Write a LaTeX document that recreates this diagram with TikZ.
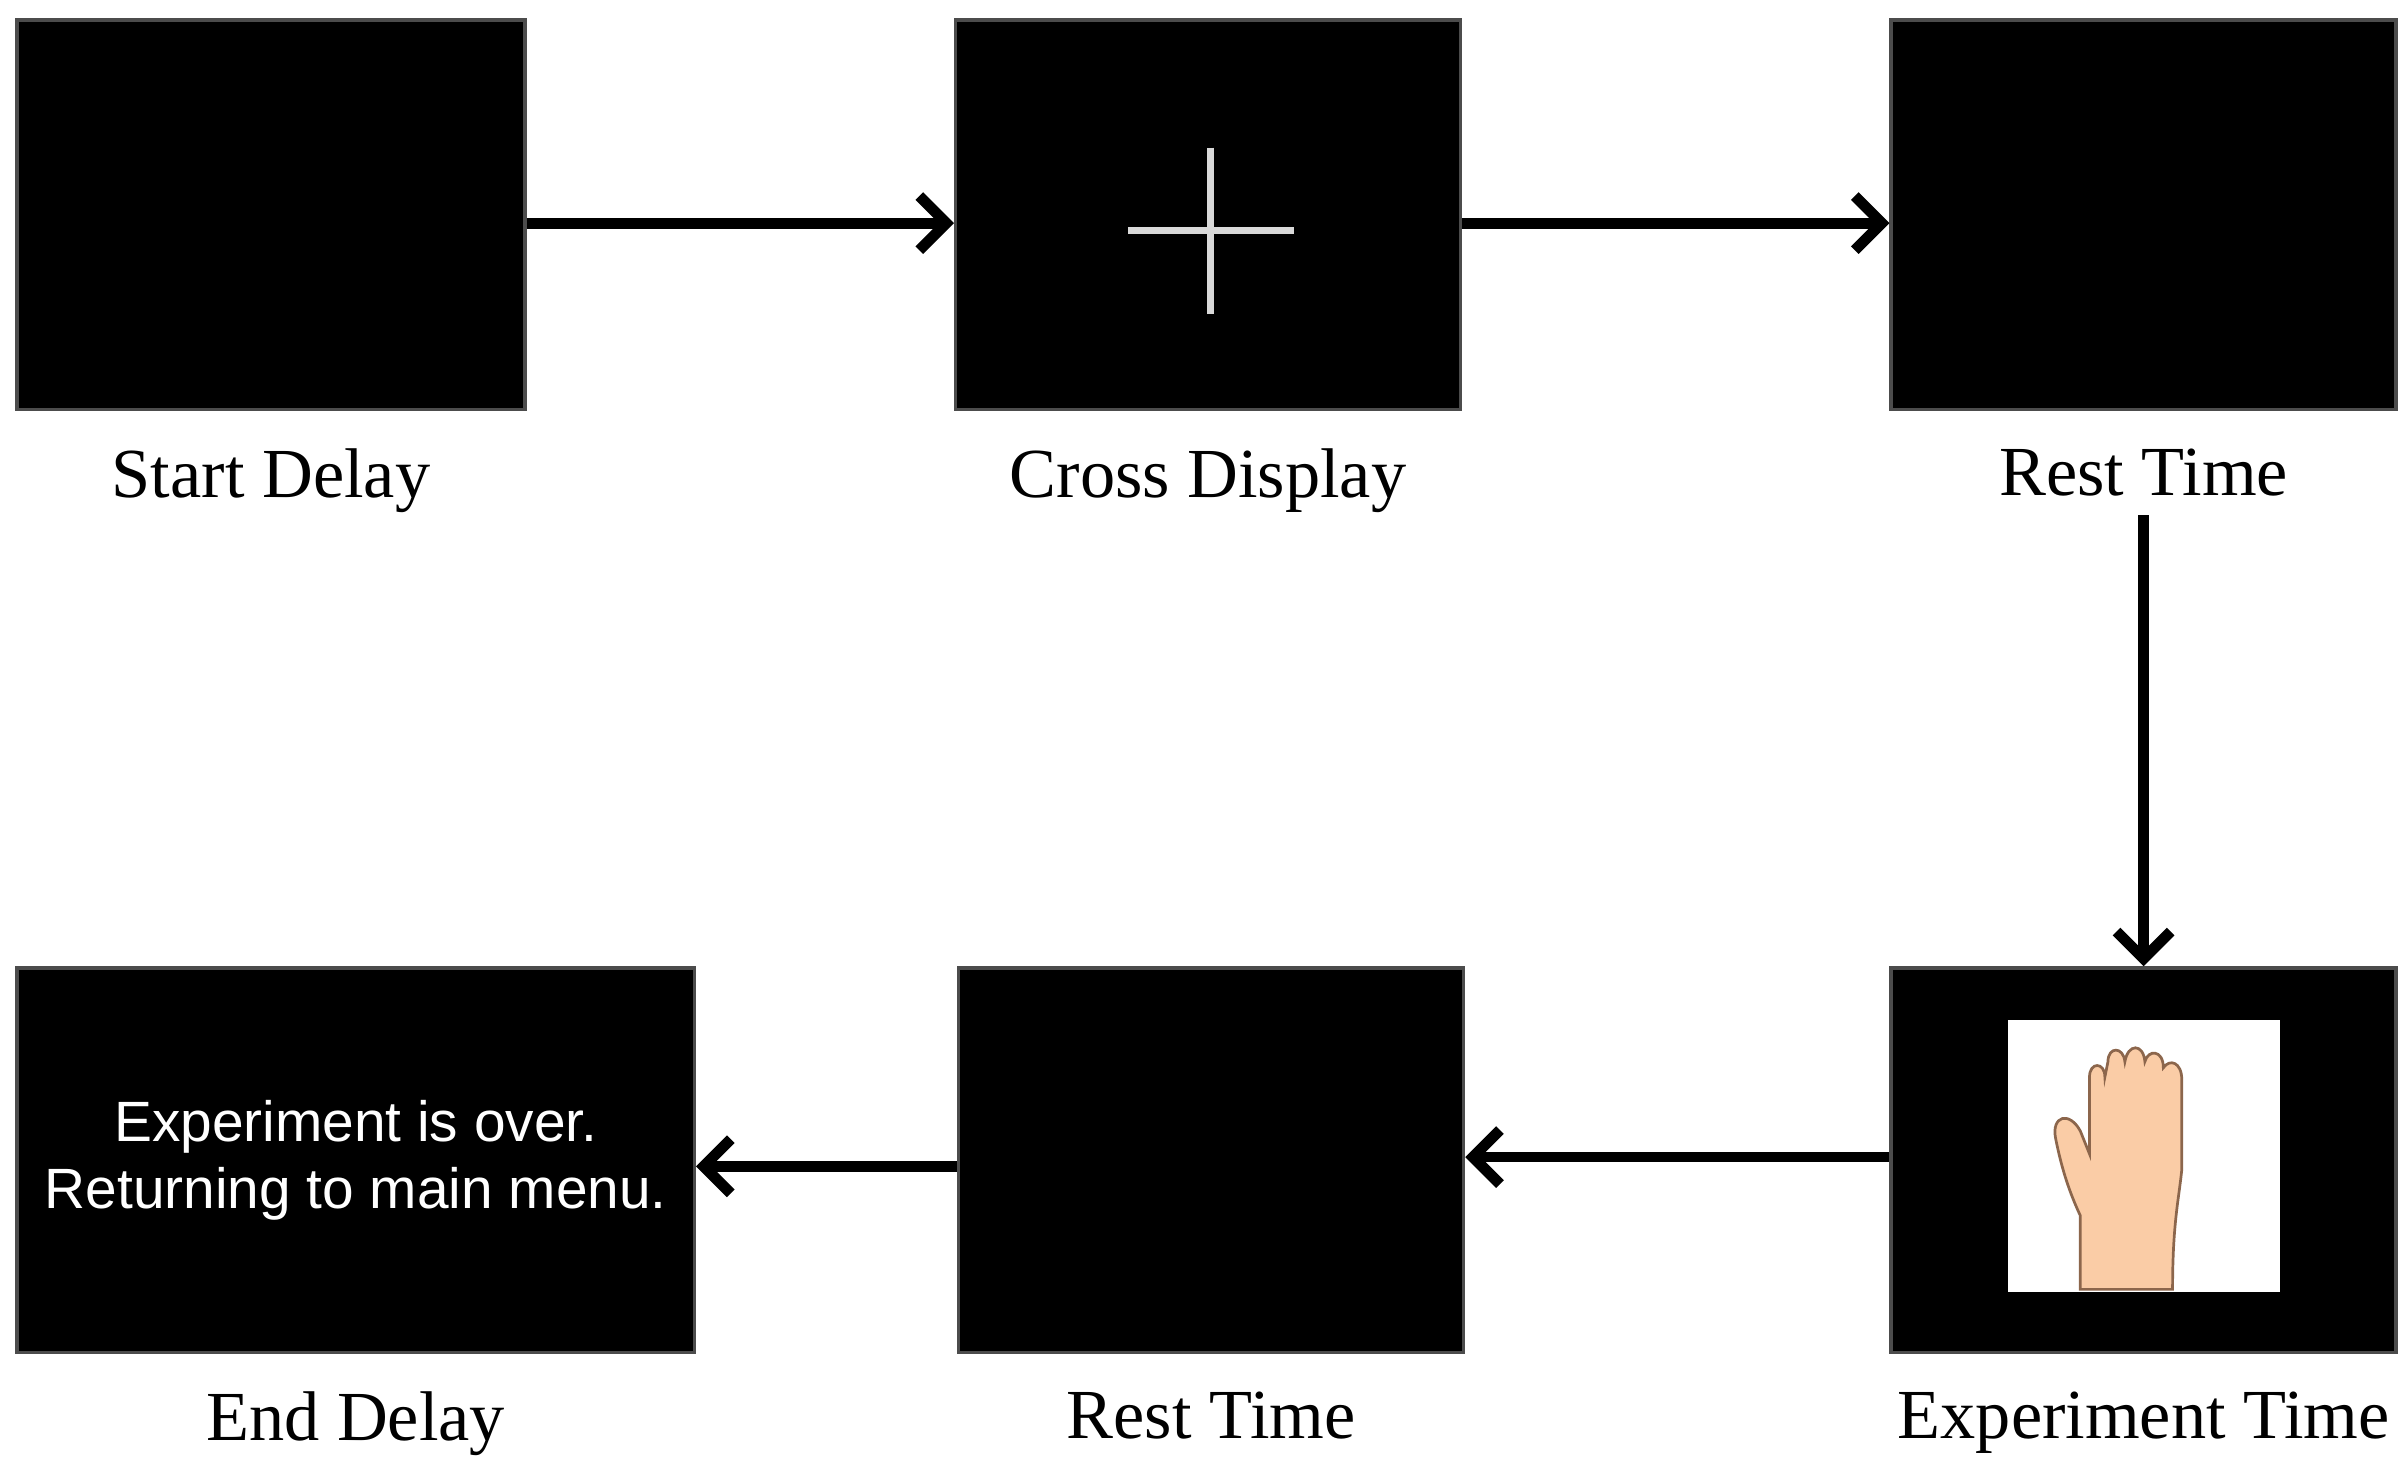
\documentclass[tikz,border=0pt]{standalone}
\usepackage{fontspec}
\setmainfont{Liberation Serif}
\newfontfamily\screenfont{Liberation Sans}
\usetikzlibrary{arrows.meta,positioning}
\definecolor{skin}{rgb}{0.98,0.80,0.65}
\definecolor{skinline}{rgb}{0.55,0.40,0.30}
\definecolor{turn}{rgb}{0.10,0.55,0.10}
\begin{document}
\begin{tikzpicture}[x=0.01cm,y=-0.01cm,
  screen/.style={fill=black,draw=black!70,line width=0.6pt},
  caption/.style={font=\fontsize{13}{15}\selectfont},
  flow/.style={-{Straight Barb[length=5pt,width=10pt,line width=2pt]},line width=2pt}]
  \useasboundingbox (0,0) rectangle (1565,958);
  % screens
  \node [screen,minimum width=3.3cm,minimum height=2.53cm,anchor=north west,inner sep=0] (startdelay) at (10,12) {};
  \node [screen,minimum width=3.28cm,minimum height=2.53cm,anchor=north west,inner sep=0] (cross) at (620,12) {};
  \node [screen,minimum width=3.28cm,minimum height=2.53cm,anchor=north west,inner sep=0] (rest) at (1228,12) {};
  \node [screen,minimum width=3.28cm,minimum height=2.5cm,anchor=north west,inner sep=0] (experiment) at (1228,628) {};
  \node [screen,minimum width=3.28cm,minimum height=2.5cm,anchor=north west,inner sep=0] (resttwo) at (622,628) {};
  \node [screen,minimum width=4.4cm,minimum height=2.5cm,anchor=north west,inner sep=0,
    text=white,align=center,font=\screenfont\fontsize{10.5}{12.5}\selectfont] (enddelay) at (10,628)
    {Experiment is over.\\Returning to main menu.};
  % captions
  \node [caption,below=0.12cm of startdelay] (startlbl) {Start Delay};
  \node [caption,below=0.12cm of cross] (crosslbl) {Cross Display};
  \node [caption,below=0.12cm of rest] (restlbl) {Rest Time};
  \node [caption,below=0.12cm of experiment] (explbl) {Experiment Time};
  \node [caption,below=0.12cm of resttwo] (resttwolbl) {Rest Time};
  \node [caption,below=0.12cm of enddelay] (endlbl) {End Delay};
  % fixation cross
  \draw [white!85!black,line width=1.3pt] (733,150) -- (841,150) (787,96) -- (787,204);
  % hand picture
  \fill [white] (1305,663) rectangle (1482,840);
  \draw [skinline,fill=skin,line width=0.5pt]
    (1352,838) -- (1352,790) .. controls (1345,775) and (1340,760) .. (1336,740)
    .. controls (1333,725) and (1345,722) .. (1352,735)
    -- (1358,750) -- (1358,700) .. controls (1358,690) and (1368,690) .. (1368,700)
    -- (1370,690) .. controls (1370,680) and (1380,680) .. (1381,690)
    .. controls (1383,678) and (1393,678) .. (1394,690)
    .. controls (1396,682) and (1406,682) .. (1406,694)
    .. controls (1410,688) and (1418,690) .. (1418,702)
    -- (1418,760) .. controls (1416,780) and (1412,795) .. (1412,838) -- cycle;
  \draw [turn,line width=1.5pt] (1410,770) .. controls (1425,778) and (1420,792) .. (1390,792)
    .. controls (1370,792) and (1352,785) .. (1340,775);
  \fill [turn] (1322,772) -- (1348,762) -- (1344,786) -- cycle;
  % transitions
  \draw [flow] (startdelay.east |- 0,145) -- (cross.west |- 0,145);
  \draw [flow] (cross.east |- 0,145) -- (rest.west |- 0,145);
  \draw [flow] (restlbl.south) -- (experiment.north);
  \draw [flow] (experiment.west |- 0,752) -- (resttwo.east |- 0,752);
  \draw [flow] (resttwo.west |- 0,758) -- (enddelay.east |- 0,758);
\end{tikzpicture}
\end{document}
